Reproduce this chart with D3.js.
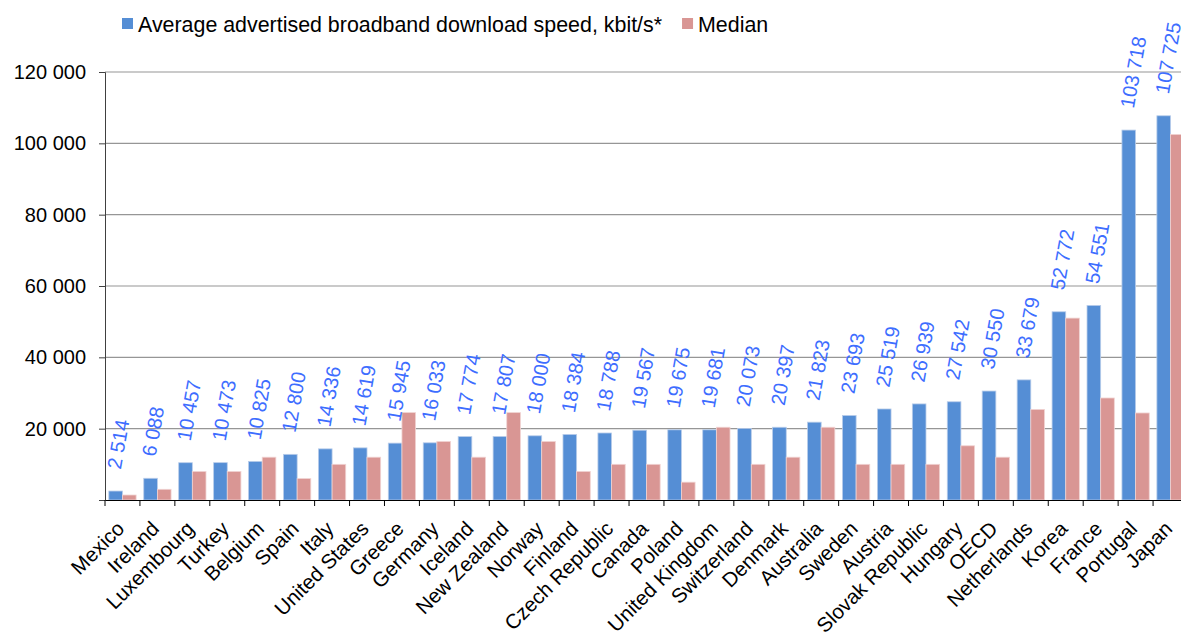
<!DOCTYPE html>
<html>
<head>
<meta charset="utf-8">
<script src="https://cdn.jsdelivr.net/npm/d3@7"></script>
<style>
  body { margin: 0; background: white; }
  svg { font-family: "Liberation Sans", Arial, sans-serif; }
</style>
</head>
<body>
<div id="container"></div>
<script>
let w = 1181;
let h = 632;

// data
let countries = ["Mexico", "Ireland", "Luxembourg", "Turkey", "Belgium", "Spain", "Italy", "United States",
  "Greece", "Germany", "Iceland", "New Zealand", "Norway", "Finland", "Czech Republic", "Canada", "Poland",
  "United Kingdom", "Switzerland", "Denmark", "Australia", "Sweden", "Austria", "Slovak Republic", "Hungary",
  "OECD", "Netherlands", "Korea", "France", "Portugal", "Japan"];
let average = [2514, 6088, 10457, 10473, 10825, 12800, 14336, 14619, 15945, 16033, 17774, 17807, 18000, 18384,
  18788, 19567, 19675, 19681, 20073, 20397, 21823, 23693, 25519, 26939, 27542, 30550, 33679, 52772, 54551,
  103718, 107725];
let median = [1400, 3000, 8000, 8000, 12000, 6000, 10000, 12000, 24500, 16400, 12000, 24500, 16400, 8000,
  10000, 10000, 5000, 20400, 10000, 12000, 20400, 10000, 10000, 10000, 15200, 12000, 25400, 51000, 28600,
  24400, 102500];
let yTicks = [0, 20000, 40000, 60000, 80000, 100000, 120000];
let seriesNames = ["Average advertised broadband download speed, kbit/s*", "Median"];
let colors = ["#558ed5", "#d99694"];

let fmt = function(v) { return d3.format(",")(v).replace(/,/g, " "); };

let padLeft = 105, padRight = 1188, padTop = 72, padBottom = 500;

let viz = d3.select("#container").append("svg")
  .attr("width", w)
  .attr("height", h);

let x = d3.scaleBand().domain(countries).range([padLeft, padRight]).paddingInner(0).paddingOuter(0);
let inner = d3.scaleBand().domain([0, 1]).range([0, x.bandwidth()]).paddingInner(0).paddingOuter(0.28);
let y = d3.scaleLinear().domain([0, 120000]).range([padBottom, padTop]);

// gridlines
viz.selectAll(".grid").data(yTicks.filter(function(d) { return d > 0; })).enter()
  .append("line")
  .attr("x1", padLeft).attr("x2", padRight)
  .attr("y1", function(d) { return y(d); }).attr("y2", function(d) { return y(d); })
  .attr("stroke", "#969696").attr("stroke-width", 1.2);

// y axis
let yAxis = viz.append("g")
  .attr("transform", "translate(" + padLeft + ",0)")
  .call(d3.axisLeft(y).tickValues(yTicks).tickSize(6).tickPadding(13)
    .tickFormat(function(d) { return d === 0 ? "" : fmt(d); }));
yAxis.select(".domain").attr("stroke", "#404040");
yAxis.selectAll(".tick line").attr("stroke", "#404040");
yAxis.selectAll("text").attr("font-size", 20).attr("fill", "#000")
  .attr("font-family", "Liberation Sans, Arial, sans-serif");

// bars
let groups = viz.selectAll(".grp").data(countries).enter()
  .append("g")
  .attr("transform", function(d) { return "translate(" + x(d) + ",0)"; });

groups.append("rect")
  .attr("x", inner(0))
  .attr("width", inner.bandwidth())
  .attr("y", function(d, i) { return y(average[i]); })
  .attr("height", function(d, i) { return y(0) - y(average[i]); })
  .attr("fill", colors[0])
  .attr("stroke", "#b9cdea").attr("stroke-width", 0.8);

groups.append("rect")
  .attr("x", inner(1))
  .attr("width", inner.bandwidth())
  .attr("y", function(d, i) { return y(median[i]); })
  .attr("height", function(d, i) { return y(0) - y(median[i]); })
  .attr("fill", colors[1])
  .attr("stroke", "#f0d3d2").attr("stroke-width", 0.8);

// value labels
groups.append("text")
  .attr("transform", function(d, i) {
    let cx = inner(0) + inner.bandwidth() / 2 + 5;
    let cy = y(average[i]) - 21;
    return "translate(" + cx + "," + cy + ") rotate(-80)";
  })
  .attr("font-size", 20)
  .attr("fill", "#3d6dff")
  .text(function(d, i) { return fmt(average[i]); });

// x axis
let xAxis = viz.append("g")
  .attr("transform", "translate(0," + padBottom + ")")
  .call(d3.axisBottom(x).tickSize(0).tickFormat(""));
xAxis.select(".domain").attr("stroke", "#000").attr("stroke-width", 1.2);

viz.selectAll(".xtick").data(d3.range(countries.length + 1)).enter()
  .append("line")
  .attr("x1", function(i) { return padLeft + i * x.bandwidth(); })
  .attr("x2", function(i) { return padLeft + i * x.bandwidth(); })
  .attr("y1", padBottom).attr("y2", padBottom + 6)
  .attr("stroke", "#000");

viz.selectAll(".xlab").data(countries).enter()
  .append("text")
  .attr("transform", function(d) {
    return "translate(" + (x(d) + x.bandwidth() / 2 + 3) + "," + (padBottom + 30) + ") rotate(-45)";
  })
  .attr("text-anchor", "end")
  .attr("font-size", 20.5)
  .attr("fill", "#000")
  .text(function(d) { return d; });

// legend
let legend = viz.append("g").attr("transform", "translate(122,0)");
let lx = 0;
seriesNames.forEach(function(name, i) {
  legend.append("rect").attr("x", lx).attr("y", 18).attr("width", 11).attr("height", 11).attr("fill", colors[i]);
  let t = legend.append("text").attr("x", lx + 16).attr("y", 32).attr("font-size", 21.4).attr("fill", "#000")
    .text(name);
  lx += 16 + t.node().getComputedTextLength() + 20;
});
</script>
</body>
</html>
